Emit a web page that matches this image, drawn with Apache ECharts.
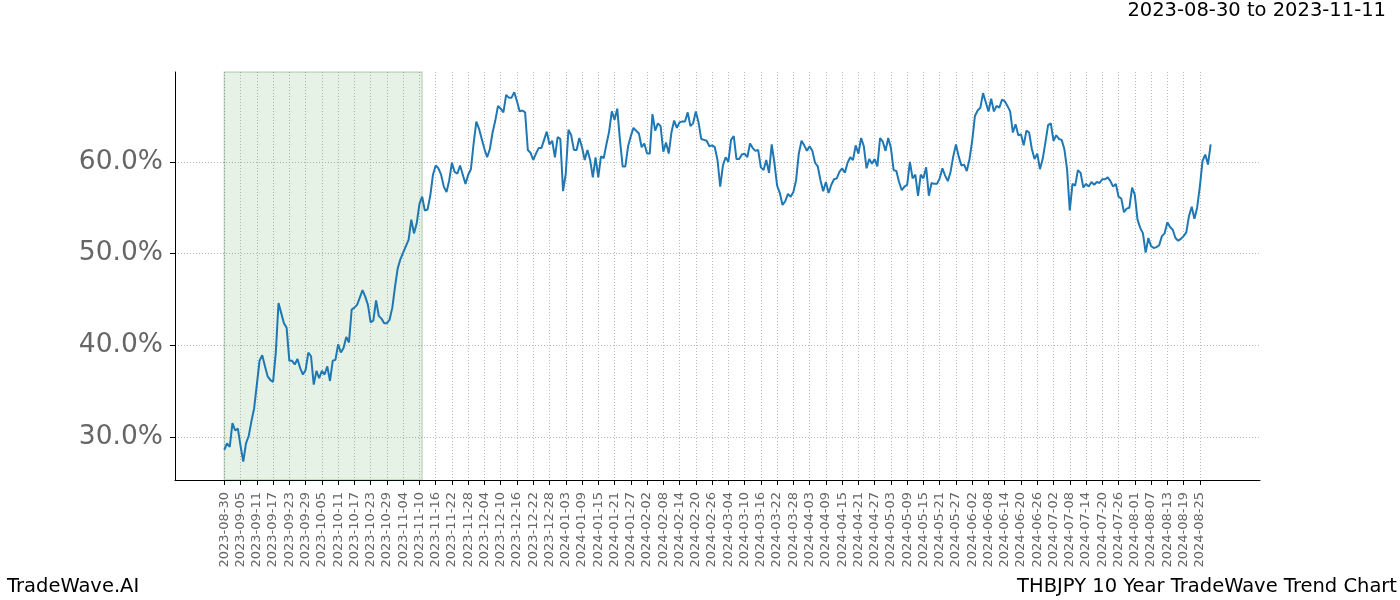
<!DOCTYPE html>
<html>
<head>
<meta charset="utf-8">
<script src="https://cdn.jsdelivr.net/npm/echarts@6/dist/echarts.min.js"></script>
<style>
html,body{margin:0;padding:0;background:#fff;}
#chart{width:1400px;height:600px;}
</style>
</head>
<body>
<div id="chart"></div>
<script>
// Tick labels (one every 6 data points)
const tickLabels = [
"2023-08-30","2023-09-05","2023-09-11","2023-09-17","2023-09-23","2023-09-29","2023-10-05","2023-10-11",
"2023-10-17","2023-10-23","2023-10-29","2023-11-04","2023-11-10","2023-11-16","2023-11-22","2023-11-28",
"2023-12-04","2023-12-10","2023-12-16","2023-12-22","2023-12-28","2024-01-03","2024-01-09","2024-01-15",
"2024-01-21","2024-01-27","2024-02-02","2024-02-08","2024-02-14","2024-02-20","2024-02-26","2024-03-04",
"2024-03-10","2024-03-16","2024-03-22","2024-03-28","2024-04-03","2024-04-09","2024-04-15","2024-04-21",
"2024-04-27","2024-05-03","2024-05-09","2024-05-15","2024-05-21","2024-05-27","2024-06-02","2024-06-08",
"2024-06-14","2024-06-20","2024-06-26","2024-07-02","2024-07-08","2024-07-14","2024-07-20","2024-07-26",
"2024-08-01","2024-08-07","2024-08-13","2024-08-19","2024-08-25"
];
const yTicks = [30, 40, 50, 60];

// Trend values (%), one per data point starting 2023-08-30
const trendValues = [
28.6,29.3,28.9,31.5,30.7,30.9,29.0,27.3,29.3,30.1,31.7,33.1,35.7,38.3,38.9,37.7,36.6,36.2,36.0,39.2,
44.6,43.5,42.4,41.9,38.3,38.3,37.9,38.5,37.5,36.8,37.3,39.2,38.8,35.7,37.2,36.4,37.2,36.8,37.7,36.1,
38.3,38.4,40.1,39.2,39.7,40.9,40.3,43.9,44.1,44.4,45.2,46.0,45.3,44.4,42.5,42.7,44.9,43.2,42.9,42.4,
42.4,42.8,44.1,46.4,48.4,49.4,50.1,50.8,51.5,53.7,52.2,53.3,55.4,56.2,54.7,54.8,56.3,58.6,59.6,59.3,
58.6,57.3,56.7,58.0,59.9,58.9,58.7,59.6,58.6,57.6,58.6,
59.2,62.0,64.4,63.6,62.5,61.4,60.5,61.4,63.2,64.5,66.1,65.8,65.4,67.3,67.0,67.0,67.6,66.6,65.5,65.6,
65.4,61.3,61.0,60.2,60.9,61.5,61.5,62.4,63.3,61.9,62.3,60.5,62.7,62.5,56.8,58.7,63.5,62.9,61.3,61.3,
62.6,61.6,60.2,61.3,60.2,58.3,60.5,58.3,60.6,60.4,61.9,63.3,65.5,64.6,65.8,62.4,59.5,59.5,61.7,62.8,
63.7,63.4,63.1,61.6,62.0,60.9,60.9,65.2,63.4,64.2,63.9,61.1,62.1,60.9,63.2,64.5,63.7,64.3,64.4,64.4,
65.4,63.9,64.2,65.5,64.3,62.5,62.4,62.3,61.7,61.8,61.6,60.2,57.3,
59.6,60.5,60.0,62.4,62.8,60.3,60.3,60.8,60.9,60.5,62.0,61.5,61.2,61.3,59.4,59.1,60.2,58.8,61.9,59.9,
57.4,56.6,55.3,55.7,56.5,56.2,56.7,58.0,60.9,62.3,61.8,61.2,61.7,61.2,59.9,59.5,58.0,56.8,57.8,56.6,
57.5,58.1,58.2,58.9,59.3,58.8,59.9,60.5,60.2,61.8,60.9,62.6,61.7,59.3,60.3,59.8,60.3,59.5,62.6,62.2,
61.2,62.6,61.5,59.1,59.0,57.8,56.9,57.3,57.5,60.0,58.2,58.6,56.3,58.6,58.2,59.4,56.3,57.7,57.6,57.6,
58.2,59.3,58.5,57.9,58.9,60.6,61.9,60.6,59.6,59.7,59.0,60.3,62.3,65.0,65.6,65.9,67.5,66.5,65.5,66.9,
65.5,66.1,65.9,
66.8,66.6,66.1,65.5,63.2,64.1,62.9,63.0,61.8,63.4,63.2,61.4,60.3,60.9,59.2,60.3,62.1,64.0,64.2,62.3,
62.9,62.5,62.4,61.4,59.2,54.7,57.6,57.4,59.1,58.8,57.2,57.6,57.3,57.8,57.5,57.8,57.7,58.1,58.1,58.3,
57.9,57.3,57.6,56.2,56.0,54.5,54.9,55.0,57.2,56.4,53.7,52.8,52.2,50.1,51.7,50.8,50.6,50.7,50.9,51.9,
52.2,53.4,52.9,52.6,51.7,51.4,51.6,51.9,52.3,54.1,55.1,53.8,55.0,57.3,60.1,60.8,59.7,61.9
];

// Highlighted window: 2023-08-30 .. 2023-11-11 (point indices)
const spanStart = 0;
const spanEnd = 73;

const tickStep = 6;
const xTickValues = tickLabels.map((_, i) => i * tickStep);
const seriesData = trendValues.map((v, i) => [i, v]);

const chart = echarts.init(document.getElementById('chart'), null, {renderer: 'canvas'});
const font = 'DejaVu Sans';
chart.setOption({
  animation: false,
  backgroundColor: '#ffffff',
  textStyle: {fontFamily: font},
  grid: {left: 175, right: 140, top: 72, bottom: 120, containLabel: false},
  title: [
    {text: '2023-08-30 to 2023-11-11', right: 14, top: 1, padding: 0,
     textStyle: {fontFamily: font, fontSize: 19.5, fontWeight: 'normal', color: '#000'}},
    {text: 'TradeWave.AI', left: 7, top: 577, padding: 0,
     textStyle: {fontFamily: font, fontSize: 19.5, fontWeight: 'normal', color: '#000'}},
    {text: 'THBJPY 10 Year TradeWave Trend Chart', right: 3, top: 577, padding: 0,
     textStyle: {fontFamily: font, fontSize: 19.5, fontWeight: 'normal', color: '#000'}}
  ],
  xAxis: {
    type: 'value',
    min: -18.2,
    max: 382.2,
    axisLine: {show: true, onZero: false, lineStyle: {color: '#000', width: 1}},
    axisTick: {show: true, customValues: xTickValues, length: 5, lineStyle: {color: '#000'}},
    axisLabel: {
      customValues: xTickValues,
      rotate: 90,
      fontFamily: font,
      fontSize: 13,
      color: '#666',
      margin: 12,
      formatter: v => tickLabels[Math.round(v / tickStep)] || ''
    },
    splitLine: {show: true, customValues: xTickValues, lineStyle: {color: '#aaa', type: [1, 2], width: 0.8}}
  },
  yAxis: {
    type: 'value',
    min: 25.3,
    max: 69.8,
    axisLine: {show: true, onZero: false, lineStyle: {color: '#000', width: 1}},
    axisTick: {show: true, customValues: yTicks, length: 5, lineStyle: {color: '#000'}},
    axisLabel: {
      customValues: yTicks,
      fontFamily: font,
      fontSize: 26.5,
      color: '#666',
      margin: 12,
      formatter: v => v.toFixed(1) + '%'
    },
    splitLine: {show: true, customValues: yTicks, lineStyle: {color: '#aaa', type: [1, 2], width: 0.8}}
  },
  series: [{
    type: 'line',
    data: seriesData,
    showSymbol: false,
    symbol: 'none',
    lineStyle: {color: '#1f77b4', width: 2},
    z: 5,
    markArea: {
      silent: true,
      itemStyle: {color: 'rgba(0,128,0,0.1)', borderColor: 'rgba(0,70,0,0.18)', borderWidth: 1.5},
      data: [[{xAxis: spanStart}, {xAxis: spanEnd}]]
    }
  }]
});
</script>
</body>
</html>
